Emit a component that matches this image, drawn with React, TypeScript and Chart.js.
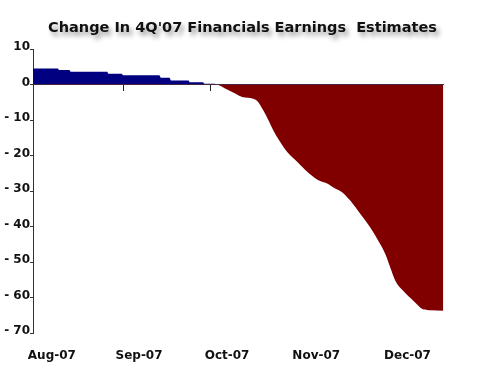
import React, { useEffect, useRef } from "react";
import { Chart, registerables } from "chart.js";

Chart.register(...registerables);

// Days since 1 Aug 2007 and change in estimates (%)
const days = [0, 8.5, 9, 12.5, 13, 25.5, 26, 30.5, 31, 43.5, 44, 47, 47.5, 53.5, 54, 58.5, 59, 62.5,
  63.4, 66.8, 69.6, 72.0, 75.8, 77.5, 79.2, 81.0, 82.7, 85.1,
  87.5, 91.0, 94.4, 97.9, 101.6, 103.4, 106.5, 109.2, 112.7, 116.1,
  118.9, 121.3, 123.0, 124.8, 127.5, 131.0, 134.5, 136.8, 141.3];
const changes = [4.5, 4.5, 4.1, 4.1, 3.6, 3.6, 3.0, 3.0, 2.6, 2.6, 1.9, 1.9, 1.1, 1.1, 0.6, 0.6, 0.2, 0.2,
  0, -1.4, -2.5, -3.5, -4.0, -4.9, -7.2, -10.0, -12.9, -16.2,
  -19.0, -21.8, -24.6, -26.8, -28.0, -29.0, -30.4, -32.7, -36.5, -40.3,
  -44.1, -47.8, -51.6, -55.4, -58.2, -61.0, -63.4, -63.6, -63.7];

const monthLabels = ["Aug-07", "Sep-07", "Oct-07", "Nov-07", "Dec-07"];
const monthLabelDays = [6.5, 36.5, 66.8, 97.5, 128.9];
const monthStartDays = [31, 61, 92, 122];
const yTicks = [10, 0, -10, -20, -30, -40, -50, -60, -70];

const TITLE = "Change In 4Q'07 Financials Earnings  Estimates";
const FONT = '"DejaVu Sans", Verdana, sans-serif';

const titlePlugin = {
  id: "shadowTitle",
  afterDraw(chart: any) {
    const ctx = chart.ctx;
    ctx.save();
    ctx.font = `bold 14.5px ${FONT}`;
    ctx.textAlign = "center";
    ctx.textBaseline = "alphabetic";
    ctx.shadowColor = "rgba(0,0,0,0.4)";
    ctx.shadowBlur = 5;
    ctx.shadowOffsetX = 3;
    ctx.shadowOffsetY = 4;
    ctx.fillStyle = "#111";
    ctx.fillText(TITLE, 242.5, 32);
    ctx.restore();
  },
};

export default function App() {
  const ref = useRef<HTMLCanvasElement>(null);
  useEffect(() => {
    if (!ref.current) return;
    const chart = new Chart(ref.current, {
      type: "line",
      data: {
        datasets: [
          {
            data: days.map((d, i) => ({ x: d, y: changes[i] })),
            borderWidth: 0,
            borderColor: "rgba(0,0,0,0)",
            pointRadius: 0,
            cubicInterpolationMode: "monotone",
            fill: { target: "origin", above: "#000080", below: "#800000" },
          },
        ],
      },
      options: {
        responsive: false,
        animation: false,
        devicePixelRatio: 1,
        layout: { padding: { top: 49, right: 36.5, bottom: 0, left: 0 } },
        plugins: { legend: { display: false }, tooltip: { enabled: false }, title: { display: false } },
        scales: {
          x: {
            type: "linear",
            min: 0,
            max: 141.3,
            position: "bottom",
            border: { display: false },
            grid: { display: false },
            afterBuildTicks: (scale: any) => {
              scale.ticks = monthLabelDays.map((v) => ({ value: v }));
            },
            afterFit: (scale: any) => {
              scale.height = 57;
            },
            ticks: {
              autoSkip: false,
              maxRotation: 0,
              padding: 8,
              color: "#111",
              font: { family: FONT, size: 12, weight: "bold" },
              callback: (_v: any, i: number) => monthLabels[i],
            },
          },
          x2: {
            type: "linear",
            min: 0,
            max: 141.3,
            position: { y: 0 } as any,
            z: 1,
            border: { display: true, color: "#444", width: 1 },
            grid: { drawOnChartArea: false, drawTicks: true, tickLength: 6, color: "#222" },
            afterBuildTicks: (scale: any) => {
              scale.ticks = monthStartDays.map((v) => ({ value: v }));
            },
            ticks: { display: false },
          },
          y: {
            type: "linear",
            min: -70,
            max: 10,
            position: "left",
            border: { display: true, color: "#333", width: 1 },
            grid: { drawOnChartArea: false, drawTicks: true, tickLength: 3, color: "#333" },
            afterBuildTicks: (scale: any) => {
              scale.ticks = yTicks.map((v) => ({ value: v }));
            },
            afterFit: (scale: any) => {
              scale.width = 33;
            },
            ticks: {
              padding: 0,
              labelOffset: -2,
              color: "#111",
              font: { family: FONT, size: 12, weight: "bold" },
              callback: (v: any) => (v < 0 ? "- " + Math.abs(v) : String(v)),
            },
          },
        },
      },
      plugins: [titlePlugin],
    });
    return () => chart.destroy();
  }, []);
  return (
    <div style={{ position: "absolute", left: 0, top: 0, width: 480, height: 390, background: "#fff" }}>
      <canvas ref={ref} width={480} height={390} style={{ display: "block" }} />
    </div>
  );
}
